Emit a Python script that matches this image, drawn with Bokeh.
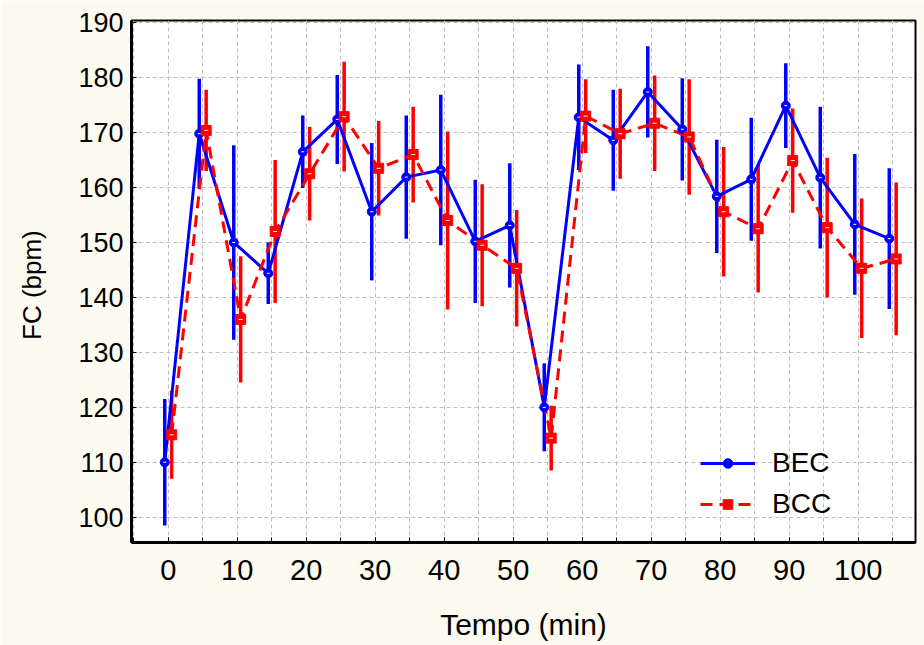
from bokeh.plotting import figure
from bokeh.models import FixedTicker, Range1d, Legend, LegendItem, ColumnDataSource
from bokeh.embed import file_html
from bokeh.resources import INLINE

# ---- data ----
tempo = [0, 5, 10, 15, 20, 25, 30, 35, 40, 45, 50, 55, 60, 65, 70, 75, 80, 85, 90, 95, 100, 105]
bec_mean = [110.0, 169.8, 150.0, 144.4, 166.5, 172.4, 155.6, 161.9, 163.2, 150.2, 153.1, 120.0,
            172.8, 168.6, 177.4, 170.6, 158.4, 161.5, 174.9, 161.8, 153.3, 150.7]
bec_err = [11.5, 10.0, 17.7, 5.6, 6.6, 8.1, 12.5, 11.2, 13.7, 11.2, 11.3, 8.0,
           9.6, 9.2, 8.3, 9.3, 10.3, 11.2, 7.7, 12.9, 12.8, 12.8]
bcc_mean = [115.0, 170.4, 136.0, 152.0, 162.5, 172.9, 163.5, 166.0, 154.0, 149.5, 145.3, 114.4,
            173.0, 169.8, 171.7, 169.2, 155.6, 152.5, 164.9, 152.7, 145.3, 147.0]
bcc_err = [8.0, 7.4, 11.5, 13.0, 8.5, 10.0, 8.6, 8.7, 16.2, 11.1, 10.6, 5.9,
           6.7, 8.2, 8.7, 10.5, 11.8, 11.6, 9.5, 12.7, 12.7, 13.9]
x_ticks = [0, 10, 20, 30, 40, 50, 60, 70, 80, 90, 100]
y_ticks = [100, 110, 120, 130, 140, 150, 160, 170, 180, 190]
series_names = ["BEC", "BCC"]

# ---- figure ----
BG = "#fdfaf0"
p = figure(width=924, height=645, output_backend="svg", toolbar_location=None,
           x_range=Range1d(-5.32, 108.3), y_range=Range1d(95.4, 190.4),
           min_border_left=131, min_border_right=9, min_border_top=20, min_border_bottom=103)
p.border_fill_color = BG
p.background_fill_color = "white"
p.outline_line_color = "black"
p.outline_line_width = 2

# axes
p.xaxis.ticker = FixedTicker(ticks=x_ticks, minor_ticks=[t for t in tempo] + [-5])
p.yaxis.ticker = FixedTicker(ticks=y_ticks)
for ax in (p.xaxis[0], p.yaxis[0]):
    ax.axis_line_width = 3
    ax.axis_line_color = "black"
    ax.major_tick_in = 5
    ax.major_tick_out = 0
    ax.major_tick_line_width = 1
    ax.major_label_text_color = "black"
    ax.axis_label_text_color = "black"
    ax.axis_label_text_font_style = "normal"
p.xaxis.minor_tick_in = 5
p.xaxis.minor_tick_out = 0
p.yaxis.minor_tick_line_color = None

p.yaxis.major_label_text_font = "Liberation Sans"
p.yaxis.major_label_text_font_size = "27px"
p.yaxis.major_label_standoff = 8
p.yaxis.axis_label = "FC  (bpm)"
p.yaxis.axis_label_text_font = "Liberation Sans"
p.yaxis.axis_label_text_font_size = "26px"
p.yaxis.axis_label_standoff = 28

p.xaxis.major_label_text_font = "Liberation Sans"
p.xaxis.major_label_text_font_size = "29px"
p.xaxis.major_label_standoff = 17
p.xaxis.axis_label = "Tempo (min)"
p.xaxis.axis_label_text_font = "Liberation Sans"
p.xaxis.axis_label_text_font_size = "30px"
p.xaxis.axis_label_standoff = 25

# grids
p.xgrid.ticker = FixedTicker(ticks=[t for t in tempo] + [-5])
p.ygrid.ticker = FixedTicker(ticks=y_ticks)
for g in (p.xgrid[0], p.ygrid[0]):
    g.grid_line_color = "#bdbdbd"
    g.grid_line_dash = "4 3"
    g.grid_line_width = 1

# ---- data sources ----
bec_x = [t - 0.5 for t in tempo]
bcc_x = [t + 0.5 for t in tempo]
src_bec = ColumnDataSource(dict(
    x=bec_x, y=bec_mean,
    lo=[m - e for m, e in zip(bec_mean, bec_err)],
    hi=[m + e for m, e in zip(bec_mean, bec_err)]))
src_bcc = ColumnDataSource(dict(
    x=bcc_x, y=bcc_mean,
    lo=[m - e for m, e in zip(bcc_mean, bcc_err)],
    hi=[m + e for m, e in zip(bcc_mean, bcc_err)]))

BLUE = "#0000ff"
RED = "#ff0000"

# error bars
p.segment(x0="x", y0="lo", x1="x", y1="hi", source=src_bec, line_color=BLUE, line_width=3.5)
p.segment(x0="x", y0="lo", x1="x", y1="hi", source=src_bcc, line_color=RED, line_width=3.5)

# lines
l_bec = p.line("x", "y", source=src_bec, line_color=BLUE, line_width=3)
l_bcc = p.line("x", "y", source=src_bcc, line_color=RED, line_width=3, line_dash="12 7")

# markers
m_bec = p.scatter("x", "y", source=src_bec, marker="circle", size=9,
                  fill_color=BLUE, line_color=BLUE)
p.scatter("x", "y", source=src_bec, marker="dash", size=3, line_color="white", line_width=1)
m_bcc = p.scatter("x", "y", source=src_bcc, marker="square", size=10,
                  fill_color=RED, line_color=RED)
p.scatter("x", "y", source=src_bcc, marker="dash", size=4, line_color="white", line_width=1)

# legend
legend = Legend(items=[LegendItem(label=series_names[0], renderers=[l_bec, m_bec]),
                       LegendItem(label=series_names[1], renderers=[l_bcc, m_bcc])],
                location=(569, 18))
legend.glyph_width = 55
legend.glyph_height = 24
legend.label_height = 41
legend.spacing = 0
legend.padding = 0
legend.margin = 0
legend.label_standoff = 17
legend.label_text_font = "Liberation Sans"
legend.label_text_font_size = "28px"
legend.label_text_color = "black"
legend.border_line_alpha = 0
legend.background_fill_alpha = 0
p.add_layout(legend)

open("out.html", "w").write(file_html(p, INLINE))
